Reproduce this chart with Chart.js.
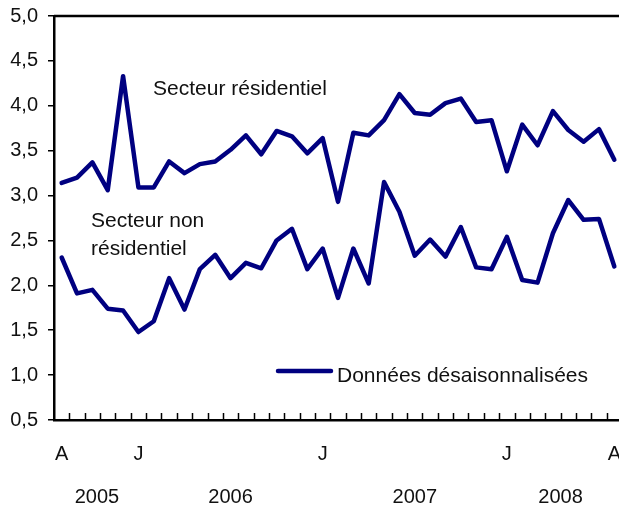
<!DOCTYPE html>
<html>
<head>
<meta charset="utf-8">
<script src="https://cdn.jsdelivr.net/npm/chart.js@4/dist/chart.umd.min.js"></script>
<style>
  html, body { margin: 0; padding: 0; background: #fff; overflow: hidden; }
  canvas { display: block; }
</style>
</head>
<body>
<canvas id="chart" width="622" height="508"></canvas>
<script>
// monthly, August 2005 to August 2008
const months = "A S O N D J F M A M J J A S O N D J F M A M J J A S O N D J F M A M J J A".split(" ");
const shownTicks = [0, 5, 17, 29, 36];
const years = ["2005", "2006", "2007", "2008"];

const residential = [3.14, 3.20, 3.37, 3.06, 4.33, 3.09, 3.09, 3.38, 3.25, 3.35,
  3.38, 3.51, 3.67, 3.46, 3.72, 3.66, 3.47, 3.64, 2.93, 3.70,
  3.67, 3.84, 4.13, 3.92, 3.90, 4.03, 4.08, 3.82, 3.84, 3.27,
  3.79, 3.56, 3.94, 3.73, 3.60, 3.74, 3.40];
const nonResidential = [2.31, 1.91, 1.95, 1.74, 1.72, 1.48, 1.60, 2.08, 1.73, 2.18,
  2.34, 2.08, 2.25, 2.19, 2.50, 2.63, 2.18, 2.41, 1.86, 2.41,
  2.02, 3.15, 2.82, 2.33, 2.51, 2.32, 2.65, 2.20, 2.18, 2.54,
  2.06, 2.03, 2.58, 2.95, 2.73, 2.74, 2.21];

const navy = "#000080";
const font = "Liberation Sans, Arial, Helvetica, sans-serif";

const extras = {
  id: "extras",
  afterDraw(chart) {
    const ctx = chart.ctx;
    const area = chart.chartArea;
    const x = chart.scales.x;
    ctx.save();
    // top frame line
    ctx.strokeStyle = "#000";
    ctx.lineWidth = 2.5;
    ctx.beginPath();
    ctx.moveTo(area.left, area.top);
    ctx.lineTo(chart.width, area.top);
    ctx.stroke();
    // inward tick marks between months
    ctx.lineWidth = 1.5;
    ctx.beginPath();
    for (let i = 1; i < months.length; i++) {
      const px = Math.round(x.getPixelForValue(i - 0.5)) + 0.5;
      ctx.moveTo(px, area.bottom);
      ctx.lineTo(px, area.bottom - 7);
    }
    ctx.stroke();
    // year labels
    ctx.fillStyle = "#111";
    ctx.font = "20px " + font;
    ctx.textAlign = "center";
    ctx.textBaseline = "middle";
    const yearAt = [2.3, 11, 23, 32.5];
    years.forEach((y, i) => ctx.fillText(y, x.getPixelForValue(yearAt[i]), 497));
    // series labels
    ctx.font = "21px " + font;
    ctx.textAlign = "left";
    ctx.textBaseline = "alphabetic";
    ctx.fillText("Secteur résidentiel", 153, 95);
    ctx.fillText("Secteur non", 91, 227);
    ctx.fillText("résidentiel", 91, 255);
    // legend
    ctx.strokeStyle = navy;
    ctx.lineWidth = 4.5;
    ctx.lineCap = "round";
    ctx.beginPath();
    ctx.moveTo(278, 371);
    ctx.lineTo(331, 371);
    ctx.stroke();
    ctx.fillText("Données désaisonnalisées", 337, 382);
    ctx.restore();
  }
};

new Chart(document.getElementById("chart"), {
  type: "line",
  data: {
    labels: months,
    datasets: [
      { label: "Secteur résidentiel", data: residential },
      { label: "Secteur non résidentiel", data: nonResidential }
    ].map(d => Object.assign(d, {
      borderColor: navy,
      borderWidth: 4.5,
      borderJoinStyle: "round",
      borderCapStyle: "round",
      pointRadius: 0,
      tension: 0,
      fill: false
    }))
  },
  options: {
    responsive: false,
    animation: false,
    devicePixelRatio: 1,
    layout: { padding: { top: 16, left: 0, right: 0, bottom: 0 } },
    plugins: { legend: { display: false }, tooltip: { enabled: false } },
    scales: {
      x: {
        offset: true,
        grid: { display: true, drawOnChartArea: false, drawTicks: true, tickLength: 22, color: "rgba(0,0,0,0)" },
        border: { display: true, color: "#000", width: 2.5 },
        ticks: {
          autoSkip: false,
          maxRotation: 0,
          padding: 0,
          color: "#111",
          font: { family: font, size: 20 },
          callback: (v, i) => shownTicks.includes(i) ? months[i] : ""
        },
        afterFit: s => { s.height = 88; s.paddingLeft = 0; s.paddingRight = 0; }
      },
      y: {
        min: 0.5,
        max: 5,
        ticks: {
          stepSize: 0.5,
          padding: 10,
          color: "#111",
          font: { family: font, size: 20 },
          callback: v => v.toFixed(1).replace(".", ",")
        },
        grid: { drawOnChartArea: false, drawTicks: true, tickLength: 6, color: "#000", lineWidth: 1.5 },
        border: { display: true, color: "#000", width: 2.5 },
        afterFit: s => { s.width = 54; s.paddingTop = 0; s.paddingBottom = 0; }
      }
    }
  },
  plugins: [extras]
});
</script>
</body>
</html>
